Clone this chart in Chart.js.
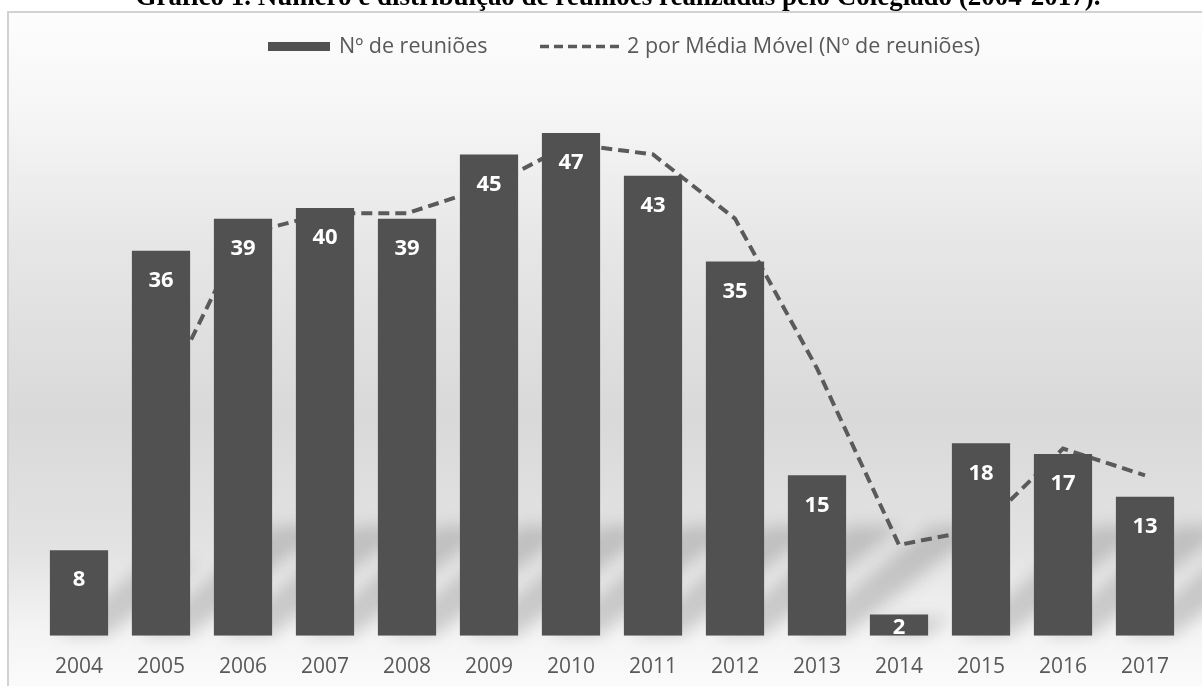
<!DOCTYPE html>
<html lang="pt">
<head>
<meta charset="utf-8">
<title>Reuniões do Colegiado</title>
<script src="https://cdn.jsdelivr.net/npm/chart.js@4/dist/chart.umd.min.js"></script>
<style>
  html, body { margin: 0; padding: 0; background: #ffffff; }
  #wrap { width: 1202px; height: 686px; position: relative; }
  canvas { display: block; }
</style>
</head>
<body>
<div id="wrap"><canvas id="chart" width="1202" height="686"></canvas></div>
<script>
// Meetings held per year and the 2-period moving average
const years = ['2004', '2005', '2006', '2007', '2008', '2009', '2010',
               '2011', '2012', '2013', '2014', '2015', '2016', '2017'];
const meetings = [8, 36, 39, 40, 39, 45, 47, 43, 35, 15, 2, 18, 17, 13];
const movingAvg = [null, 22, 37.5, 39.5, 39.5, 42, 46, 45, 39, 25, 8.5, 10, 17.5, 15];
const seriesNames = ['Nº de reuniões', '2 por Média Móvel (Nº de reuniões)'];
const chartTitle = 'Gráfico 1. Número e distribuição de reuniões realizadas pelo Colegiado (2004-2017).';

const BAR_COLOR = '#515151';
const LINE_COLOR = '#5a5a5a';
const TEXT_COLOR = '#595959';
const SANS = '"Open Sans", "DejaVu Sans", sans-serif';

// Panel background, frame, soft bar shadows and the caption above the frame
const backdrop = {
  id: 'backdrop',
  beforeDraw(chart) {
    const { ctx, width, height } = chart;
    ctx.save();
    ctx.fillStyle = '#ffffff';
    ctx.fillRect(0, 0, width, height);

    const g = ctx.createLinearGradient(0, 12, 0, height);
    g.addColorStop(0.00, '#fdfdfd');
    g.addColorStop(0.13, '#f7f7f7');
    g.addColorStop(0.35, '#e6e6e6');
    g.addColorStop(0.60, '#d9d9d9');
    g.addColorStop(0.80, '#e3e3e3');
    g.addColorStop(0.92, '#f4f4f4');
    g.addColorStop(1.00, '#fbfbfb');
    ctx.fillStyle = g;
    ctx.fillRect(8, 12, width - 8, height - 12);

    // frame (left and top edges)
    ctx.fillStyle = '#d2d2d2';
    ctx.fillRect(7, 11, 2, height - 11);
    ctx.fillRect(7, 11, width - 7, 2);

    // blurred diagonal shadows cast by the bars
    const meta = chart.getDatasetMeta(0);
    ctx.filter = 'blur(8px)';
    ctx.fillStyle = 'rgba(70,70,70,0.22)';
    meta.data.forEach(bar => {
      const h = bar.base - bar.y;
      const dy = Math.min(h * 0.85, 110);
      const dx = dy * 1.25;
      const l = bar.x - bar.width / 2;
      const r = bar.x + bar.width / 2;
      ctx.beginPath();
      ctx.moveTo(l + 6, bar.base);
      ctx.lineTo(r, bar.base);
      ctx.lineTo(r + dx, bar.base - dy);
      ctx.lineTo(l + dx + 6, bar.base - dy);
      ctx.closePath();
      ctx.fill();
    });
    ctx.filter = 'none';

    // caption, partly above the page edge
    ctx.fillStyle = '#000000';
    ctx.font = 'bold 20px "Liberation Serif", "DejaVu Serif", serif';
    const w = ctx.measureText(chartTitle).width;
    const size = 20 * 965 / w;
    ctx.font = 'bold ' + size.toFixed(2) + 'px "Liberation Serif", "DejaVu Serif", serif';
    ctx.textAlign = 'center';
    ctx.textBaseline = 'alphabetic';
    ctx.fillText(chartTitle, 618, 5);
    ctx.restore();
  }
};

// Value labels inside the top of each bar
const barLabels = {
  id: 'barLabels',
  afterDatasetsDraw(chart) {
    const { ctx } = chart;
    const meta = chart.getDatasetMeta(0);
    ctx.save();
    ctx.fillStyle = '#ffffff';
    ctx.font = 'bold 22px ' + SANS;
    ctx.textAlign = 'center';
    ctx.textBaseline = 'middle';
    meta.data.forEach((bar, i) => {
      const v = chart.data.datasets[0].data[i];
      let y = bar.y + 30;
      if (bar.base - bar.y < 40) y = bar.y + (bar.base - bar.y) / 2 + 3;
      ctx.fillText(String(v), bar.x, y);
    });
    ctx.restore();
  }
};

// Legend row at the top of the panel
const topLegend = {
  id: 'topLegend',
  afterDraw(chart) {
    const { ctx } = chart;
    ctx.save();
    ctx.fillStyle = BAR_COLOR;
    ctx.fillRect(268, 42, 62, 9);
    ctx.font = '21.5px ' + SANS;
    ctx.fillStyle = TEXT_COLOR;
    ctx.textBaseline = 'middle';
    ctx.textAlign = 'left';
    ctx.fillText(seriesNames[0], 339, 47);

    ctx.strokeStyle = LINE_COLOR;
    ctx.lineWidth = 3.5;
    ctx.setLineDash([9, 5]);
    ctx.beginPath();
    ctx.moveTo(540, 46.5);
    ctx.lineTo(624, 46.5);
    ctx.stroke();
    ctx.setLineDash([]);
    ctx.fillText(seriesNames[1], 627, 47);
    ctx.restore();
  }
};

new Chart(document.getElementById('chart'), {
  data: {
    labels: years,
    datasets: [
      {
        type: 'bar',
        label: seriesNames[0],
        data: meetings,
        backgroundColor: BAR_COLOR,
        borderWidth: 0,
        barPercentage: 0.71,
        categoryPercentage: 1.0,
        order: 1
      },
      {
        type: 'line',
        label: seriesNames[1],
        data: movingAvg,
        borderColor: LINE_COLOR,
        borderWidth: 4,
        borderDash: [11, 6],
        pointRadius: 0,
        tension: 0,
        fill: false,
        order: 2
      }
    ]
  },
  options: {
    responsive: false,
    animation: false,
    devicePixelRatio: 1,
    layout: { padding: { top: 101, left: 38, right: 16, bottom: -13 } },
    plugins: {
      legend: { display: false },
      title: { display: false },
      tooltip: { enabled: false }
    },
    scales: {
      x: {
        grid: { display: false, drawTicks: false },
        border: { display: false },
        ticks: {
          color: TEXT_COLOR,
          font: { family: SANS, size: 21 },
          padding: 19,
          maxRotation: 0
        }
      },
      y: { display: false, min: 0, max: 50 }
    }
  },
  plugins: [backdrop, barLabels, topLegend]
});
</script>
</body>
</html>
